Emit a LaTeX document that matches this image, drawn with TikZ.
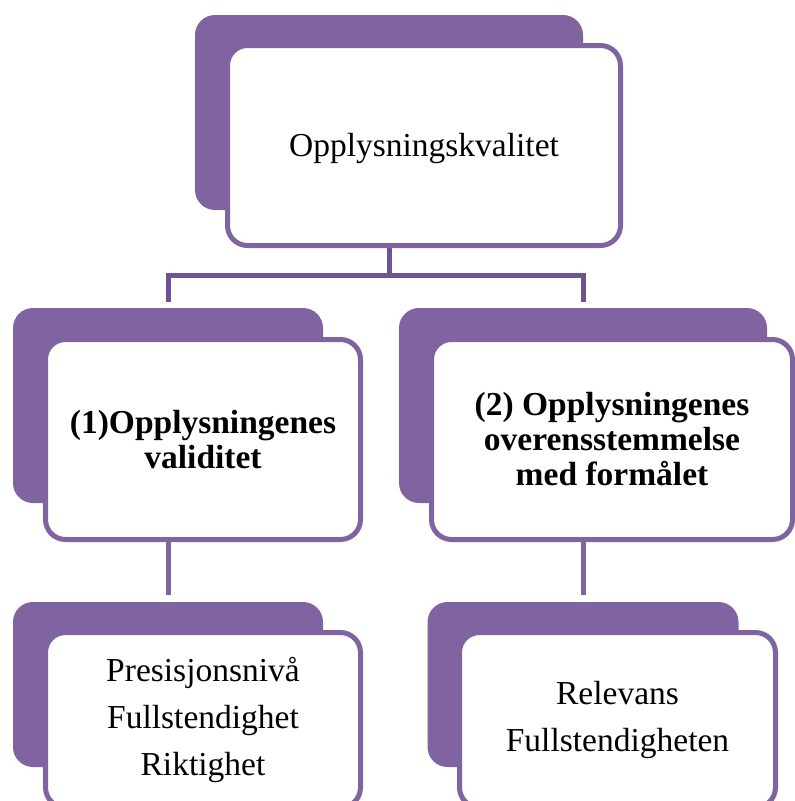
\documentclass[tikz,border=0pt]{standalone}
\usepackage{fontspec}
\setmainfont{Liberation Serif}
\definecolor{cardpurple}{HTML}{8064A2}
\definecolor{linkpurple}{HTML}{6D5391}
\tikzset{
  backcard/.style={fill=cardpurple, rounded corners=20pt, inner sep=0pt, outer sep=0pt,
    minimum width=#1},
  frontcard/.style={draw=cardpurple, line width=5pt, fill=white, rounded corners=20pt,
    inner sep=0pt, outer sep=0pt, align=center, text=black, minimum width=#1},
  plaintext/.style={font=\fontsize{33.5}{40}\selectfont},
  listtext/.style={font=\fontsize{33.5}{47}\selectfont},
  headtext/.style={font=\fontsize{33.5}{35}\selectfont\bfseries},
  link/.style={draw=linkpurple, line width=5pt},
  sublink/.style={draw=cardpurple, line width=5pt}
}
\begin{document}
\begin{tikzpicture}[x=1pt,y=-1pt]
  \useasboundingbox (0,0) rectangle (795,801);
  \clip (0,0) rectangle (795,801);

  % back cards
  \node[backcard=388pt, minimum height=195pt] (topback) at (389,112.5) {};
  \node[backcard=310pt, minimum height=195pt] (mlback)  at (168,405.5) {};
  \node[backcard=368pt, minimum height=195pt] (mrback)  at (583,405.5) {};
  \node[backcard=310pt, minimum height=165pt] (blback)  at (168,684.5) {};
  \node[backcard=311pt, minimum height=165pt] (brback)  at (583,684.5) {};

  % connectors
  \coordinate (bus) at (389,275.5);
  \draw[link, shorten >=6pt] (topback.south) -- (bus) -| (mlback.north);
  \draw[link, shorten >=6pt] (bus) -| (mrback.north);
  \draw[sublink, shorten >=7pt] (mlback.south) -- (blback.north);
  \draw[sublink, shorten >=7pt] (mrback.south) -- (brback.north);

  % front cards
  \node[frontcard=393pt, minimum height=200pt, plaintext] (topfront) at (424,145.5)
    {\raisebox{-11pt}[0pt][0pt]{Opplysningskvalitet}};
  \node[frontcard=315pt, minimum height=200pt, headtext] (mlfront) at (203,439.5)
    {(1)Opplysningenes\\validitet};
  \node[frontcard=361pt, minimum height=200pt, headtext] (mrfront) at (612,439.5)
    {(2) Opplysningenes\\overensstemmelse\\med formålet};
  \node[frontcard=315pt, minimum height=175pt, listtext] (blfront) at (203,720)
    {Presisjonsnivå\\Fullstendighet\\Riktighet};
  \node[frontcard=316pt, minimum height=175pt, listtext] (brfront) at (617.5,720)
    {Relevans\\Fullstendigheten};
\end{tikzpicture}
\end{document}
